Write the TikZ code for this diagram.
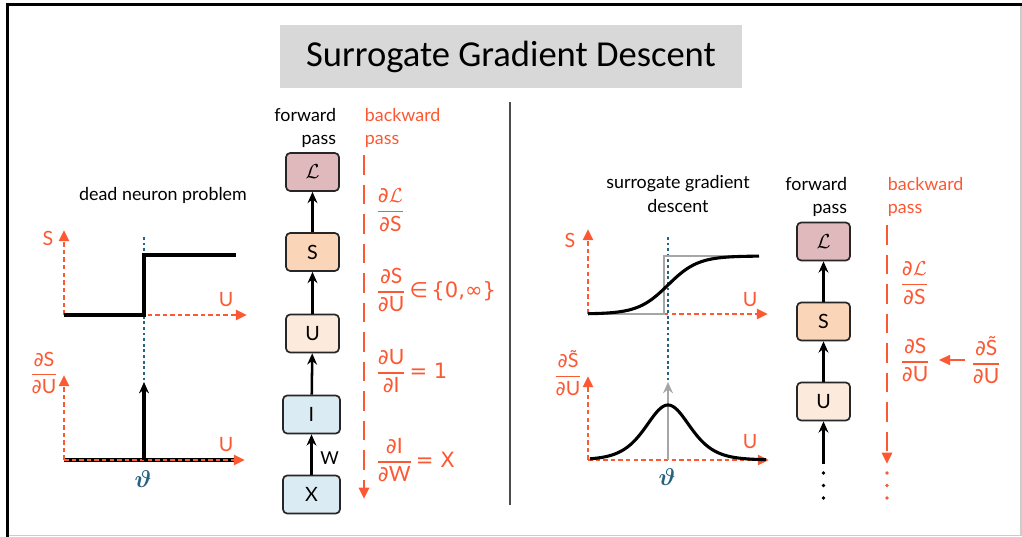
\documentclass[tikz,border=0pt]{standalone}
\usepackage{amsmath}
\usepackage{bm}
\usepackage{fontspec}
\setmainfont{Lato}
\newfontfamily\titlefont{Carlito}
\newfontfamily\dvsfont{DejaVu Sans}
\usetikzlibrary{arrows.meta, positioning, calc}
\definecolor{cOrange}{RGB}{252,88,50}
\definecolor{cTeal}{RGB}{38,98,130}
\definecolor{cTitle}{RGB}{216,216,216}
\definecolor{cLoss}{RGB}{223,185,187}
\definecolor{cSpike}{RGB}{250,213,184}
\definecolor{cMem}{RGB}{252,234,220}
\definecolor{cIn}{RGB}{218,235,243}
\newcommand{\pdfrac}[2]{\ensuremath{\genfrac{}{}{0.9pt}{0}{\text{{\dvsfont ∂}#1}}{\text{{\dvsfont ∂}#2}}}}
\tikzset{
	titlebox/.style ={rectangle, fill=cTitle, minimum width=11.55cm, minimum height=1.575cm, font=\titlefont\fontsize{26}{30}\selectfont},
	fwdbox/.style   ={rectangle, rounded corners=3pt, draw=black!85, line width=1.2pt, minimum width=1.325cm, minimum height=0.95cm, font=\fontsize{14}{16}\selectfont},
	fwdarrow/.style ={-{Stealth[length=8pt, width=7pt]}, line width=1.8pt},
	bwdline/.style  ={cOrange, line width=2pt, dash pattern=on 14pt off 7pt, -{Triangle[length=8pt, width=7pt]}},
	bwdlbl/.style   ={cOrange, anchor=west, inner sep=0pt, font=\fontsize{15}{18}\selectfont},
	% plot styles
	axisarrow/.style={cOrange, line width=2pt, dash pattern=on 3.2pt off 2.2pt, -{Triangle[length=8pt, width=7pt]}},
	axislbl/.style  ={cOrange, inner sep=0pt, font=\fontsize{14}{16}\selectfont},
	thetaline/.style={cTeal, line width=1.8pt, dash pattern=on 2pt off 2pt},
	thetalbl/.style ={cTeal, font=\fontsize{18}{20}\selectfont},
	curve/.style    ={black, line width=2.2pt},
}
\begin{document}
\begin{tikzpicture}[x=0.025cm, y=-0.025cm, font=\fontsize{12.7}{16.5}\selectfont]
	\useasboundingbox (0,0) rectangle (1022,537);
	% frame
	\draw[line width=2.2pt] (7.5,537) -- (7.5,4.5) -- (1022,4.5);
	\draw[black!20, line width=0.8pt] (1021,6) -- (1021,535.5) -- (9,535.5);
	\node[titlebox] (title) at (511,56.5) {Surrogate Gradient Descent};
	\draw[black!70, line width=1.4pt] (510,102) -- (510,505);

	% ---- left: dead neuron problem
	\node (deadlbl) at (163,195) {dead neuron problem};
	\draw[axisarrow] (64,315) -- (64,230);
	\draw[axisarrow] (64,315) -- (247,315);
	\node[axislbl] (lSax) at (48,238) {S};
	\node[axislbl] (lUax) at (226,300) {U};
	\draw[thetaline] (144,237) -- (144,382);
	\draw[curve] (64,315) -- (144,315) -- (144,255) -- (236,255);
	\draw[curve] (64,460) -- (236,460);
	\draw[axisarrow] (64,460) -- (64,375);
	\draw[axisarrow] (64,460) -- (245,460);
	\node[axislbl] (ldSdU) at (44,373) {\pdfrac{S}{U}};
	\node[axislbl] (lUax2) at (226,445) {U};
	\draw[curve, -{Stealth[length=8pt, width=7pt]}] (144,460) -- (144,382);
	\node[thetalbl] (ltheta) at (143,479) {$\bm{\vartheta}$};

	% ---- left: forward / backward pass
	\node[align=right, anchor=east] (lfwd) at (341,128) {forward\\pass};
	\node[align=left, anchor=west, text=cOrange] (lbwd) at (360,128) {backward\\pass};
	\node[fwdbox, fill=cLoss] (lL) at (312.5,172) {$\mathcal{L}$};
	\node[fwdbox, fill=cSpike] (lS) at (312.5,252) {S};
	\node[fwdbox, fill=cMem] (lU) at (312.5,333.5) {U};
	\node[fwdbox, fill=cIn, minimum width=1.425cm] (lI) at (311.5,414.5) {I};
	\node[fwdbox, fill=cIn, minimum width=1.425cm] (lX) at (311.5,494.5) {X};
	\draw[fwdarrow] (lX) -- (lI) node[pos=0.4, right=2pt] (lW) {W};
	\draw[fwdarrow] (lI) -- (lU);
	\draw[fwdarrow] (lU) -- (lS);
	\draw[fwdarrow] (lS) -- (lL);
	\coordinate (lbtop) at (364,155);
	\coordinate (lbbot) at (364,499);
	\draw[bwdline] (lbtop) -- (lbbot);
	\node[bwdlbl] (ldLdS) at (376,210) {\pdfrac{$\mathcal{L}$}{S}};
	\node[bwdlbl] (ldSdU2) at (376,290) {\pdfrac{S}{U}\,{\dvsfont ∈\,\{0,∞\}}};
	\node[bwdlbl] (ldUdI) at (376,371) {\pdfrac{U}{I}\,{\dvsfont = 1}};
	\node[bwdlbl] (ldIdW) at (376,460) {\pdfrac{I}{W}\,{\dvsfont = X}};

	% ---- right: surrogate gradient descent
	\node[align=center] (surlbl) at (678,194) {surrogate gradient\\descent};
	\draw[axisarrow] (588,314) -- (588,229);
	\draw[axisarrow] (588,314) -- (768,314);
	\node[axislbl] (rSax) at (570,240) {S};
	\node[axislbl] (rUax) at (750,300) {U};
	\draw[thetaline] (668,237) -- (668,382);
	\draw[black!35, line width=2pt] (588,314) -- (664,314) -- (664,256) -- (757,256);
	\draw[curve] plot[domain=588:759, samples=90] (\x, {314-58/(1+exp(-(\x-668)/15))});
	\draw[axisarrow] (588,460) -- (588,376);
	\draw[axisarrow] (588,460) -- (769,460);
	\node[axislbl] (rdSdU) at (568,373) {\pdfrac{\~{S}}{U}};
	\node[axislbl] (rUax2) at (750,442) {U};
	\draw[black!35, line width=2pt, -{Stealth[length=8pt, width=7pt]}] (668,460) -- (668,382);
	\draw[curve] plot[domain=590:766, samples=120] (\x, {460-220*exp(-abs(\x-668)/15)/(1+exp(-abs(\x-668)/15))^2});
	\node[thetalbl] (rtheta) at (667,477) {$\bm{\vartheta}$};

	% ---- right: forward / backward pass
	\node[align=right, anchor=east] (rfwd) at (852,197) {forward\\pass};
	\node[align=left, anchor=west, text=cOrange] (rbwd) at (883,197) {backward\\pass};
	\node[fwdbox, fill=cLoss] (rL) at (823.5,241.5) {$\mathcal{L}$};
	\node[fwdbox, fill=cSpike] (rS) at (823.5,321.5) {S};
	\node[fwdbox, fill=cMem] (rU) at (823.5,401.5) {U};
	\coordinate (rin) at (823.5,464);
	\draw[fwdarrow] (rin) -- (rU);
	\draw[fwdarrow] (rU) -- (rS);
	\draw[fwdarrow] (rS) -- (rL);
	\foreach \y in {473,485.5,498} {
		\fill (823.5,\y) circle (1.3pt);
		\fill[cOrange] (887,\y) circle (1.3pt);
	}
	\coordinate (rbtop) at (887,225);
	\coordinate (rbbot) at (887,464);
	\draw[bwdline] (rbtop) -- (rbbot);
	\node[bwdlbl] (rdLdS) at (900,283) {\pdfrac{$\mathcal{L}$}{S}};
	\node[bwdlbl] (rdSdU2) at (900,360) {\pdfrac{S}{U}};
	\node[bwdlbl] (rdStdU) at (971,360) {\pdfrac{\~{S}}{U}};
	\draw[cOrange, line width=1.5pt, -{Triangle[length=8pt, width=7pt]}] ([xshift=-4pt]rdStdU.west) -- ([xshift=6pt]rdSdU2.east);
\end{tikzpicture}
\end{document}
